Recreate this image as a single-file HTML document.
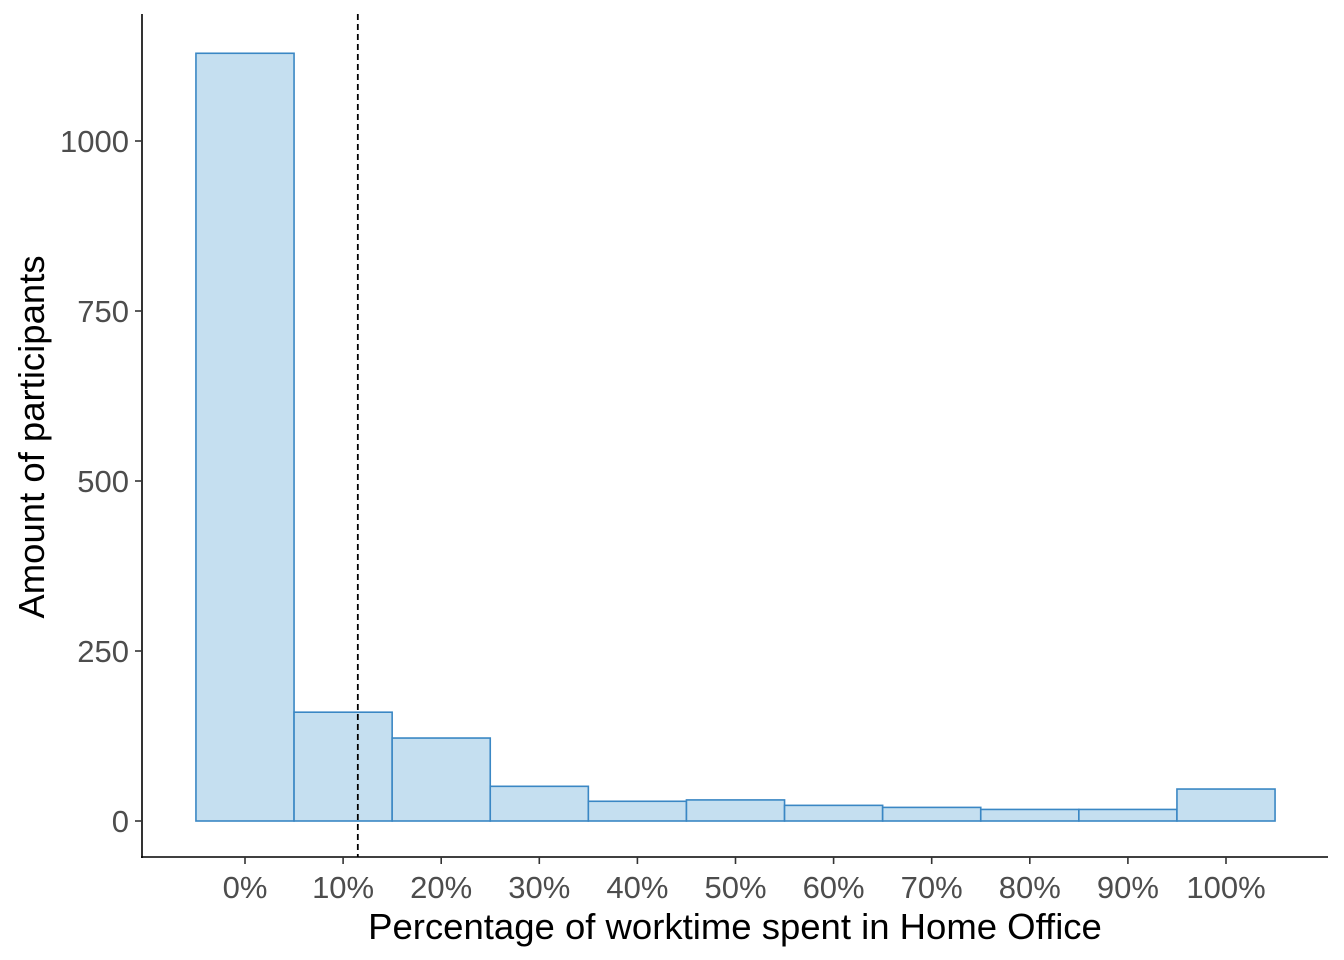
<!DOCTYPE html>
<html><head><meta charset="utf-8"><style>
body{margin:0;background:#fff;}
svg{display:block;font-family:"Liberation Sans",Arial,sans-serif;}
</style></head><body>
<svg id="chart" width="1344" height="960"></svg>
<script>
const categories=["0%","10%","20%","30%","40%","50%","60%","70%","80%","90%","100%"];
const binCenters=[0,10,20,30,40,50,60,70,80,90,100];
const counts=[1129,160,122,51,29,31,23,20,17,17,47];
const yTicks=[0,250,500,750,1000];
const meanLine=11.5;
const NS="http://www.w3.org/2000/svg";
const svg=document.getElementById('chart');
const xS=v=>245+v*9.81;
const yS=v=>821-v*0.68;
function mk(tag,attrs,parent){const e=document.createElementNS(NS,tag);for(const k in attrs)e.setAttribute(k,attrs[k]);(parent||svg).appendChild(e);return e;}
counts.forEach((c,i)=>{
 const r=mk('rect',{x:xS(binCenters[i]-5),y:yS(c),width:xS(binCenters[i]+5)-xS(binCenters[i]-5),height:yS(0)-yS(c),fill:'#c5dff0',stroke:'#3a87c4','stroke-width':1.6});
 
 
});
const ml=mk('line',{x1:xS(meanLine),x2:xS(meanLine),y1:14,y2:857,stroke:'#000','stroke-width':1.8,'stroke-dasharray':'6,4'});


const ya=mk('line',{x1:142,x2:142,y1:14,y2:858,stroke:'#000','stroke-width':1.6});


const xa=mk('line',{x1:141,x2:1328,y1:857,y2:857,stroke:'#000','stroke-width':1.6});


yTicks.forEach(t=>{
 mk('line',{x1:135,x2:142,y1:yS(t),y2:yS(t),stroke:'#333','stroke-width':1.6});
 const tx=mk('text',{x:129,y:yS(t)+11,'text-anchor':'end','font-size':31,fill:'#4d4d4d'});
 tx.textContent=t;
 
 
});
categories.forEach((c,i)=>{
 const x=xS(binCenters[i]);
 mk('line',{x1:x,x2:x,y1:857,y2:864,stroke:'#333','stroke-width':1.6});
 const tx=mk('text',{x:x,y:898,'text-anchor':'middle','font-size':31,fill:'#4d4d4d'});
 tx.textContent=c;
 
 
});
const xt=mk('text',{x:735,y:939,'text-anchor':'middle','font-size':36.5,fill:'#000'});
xt.textContent='Percentage of worktime spent in Home Office';


const yt=mk('text',{x:0,y:0,'text-anchor':'middle','font-size':36.5,fill:'#000',transform:'translate(44,437) rotate(-90)'});
yt.textContent='Amount of participants';


</script>
</body></html>
